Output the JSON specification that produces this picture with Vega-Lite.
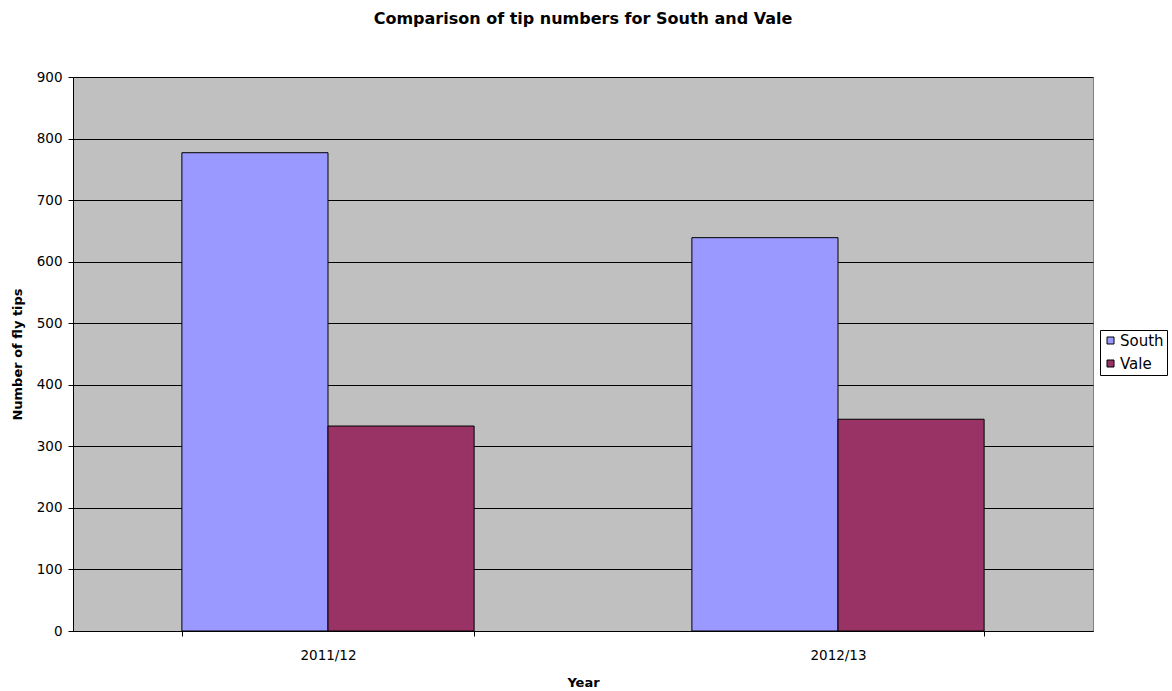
{
  "$schema": "https://vega.github.io/schema/vega-lite/v6.json",
  "width": 1020,
  "height": 554,
  "autosize": {"type": "none"},
  "padding": {"left": 73, "top": 77, "right": 79, "bottom": 60},
  "background": "white",
  "title": {
    "text": "Comparison of tip numbers for South and Vale",
    "font": "DejaVu Sans",
    "fontSize": 16,
    "fontWeight": "bold",
    "color": "black",
    "anchor": "middle",
    "offset": 43
  },
  "data": {
    "values": [
      {"Year": "2011/12", "Area": "South", "Tips": 777},
      {"Year": "2011/12", "Area": "Vale", "Tips": 333},
      {"Year": "2012/13", "Area": "South", "Tips": 639},
      {"Year": "2012/13", "Area": "Vale", "Tips": 344}
    ]
  },
  "mark": {"type": "bar", "stroke": "black", "strokeWidth": 1},
  "encoding": {
    "x": {
      "field": "Year",
      "type": "nominal",
      "scale": {"paddingInner": 0.427, "paddingOuter": 0.2135},
      "axis": {
        "title": "Year",
        "labelAngle": 0,
        "tickBand": "extent",
        "tickSize": 5,
        "tickColor": "black",
        "domainColor": "black",
        "labelPadding": 12,
        "titlePadding": 15,
        "labelFont": "DejaVu Sans",
        "labelFontSize": 13.5,
        "labelColor": "black",
        "titleFont": "DejaVu Sans",
        "titleFontSize": 13,
        "titleFontWeight": "bold",
        "titleColor": "black",
        "grid": false
      }
    },
    "xOffset": {"field": "Area", "type": "nominal", "scale": {"paddingInner": 0, "paddingOuter": 0}},
    "y": {
      "field": "Tips",
      "type": "quantitative",
      "scale": {"domain": [0, 900], "nice": false},
      "axis": {
        "title": "Number of fly tips",
        "values": [0, 100, 200, 300, 400, 500, 600, 700, 800, 900],
        "tickSize": 5,
        "tickColor": "black",
        "domainColor": "black",
        "grid": true,
        "gridColor": "black",
        "gridOpacity": 1,
        "gridWidth": 1,
        "labelPadding": 6,
        "titlePadding": 12,
        "labelFont": "DejaVu Sans",
        "labelFontSize": 13.5,
        "labelColor": "black",
        "titleFont": "DejaVu Sans",
        "titleFontSize": 13,
        "titleFontWeight": "bold",
        "titleColor": "black"
      }
    },
    "color": {
      "field": "Area",
      "type": "nominal",
      "scale": {"domain": ["South", "Vale"], "range": ["#9999FF", "#993366"]},
      "legend": {
        "title": null,
        "orient": "none",
        "legendX": 1027,
        "legendY": 253,
        "symbolType": "square",
        "symbolSize": 49,
        "symbolStrokeColor": "black",
        "symbolStrokeWidth": 1,
        "symbolOpacity": 1,
        "labelFont": "DejaVu Sans",
        "labelFontSize": 15,
        "labelColor": "black",
        "labelOffset": 2,
        "rowPadding": 7,
        "padding": 3,
        "strokeColor": "black",
        "fillColor": "white"
      }
    }
  },
  "config": {
    "view": {"fill": "#C0C0C0", "stroke": "#808080", "strokeWidth": 1}
  }
}
